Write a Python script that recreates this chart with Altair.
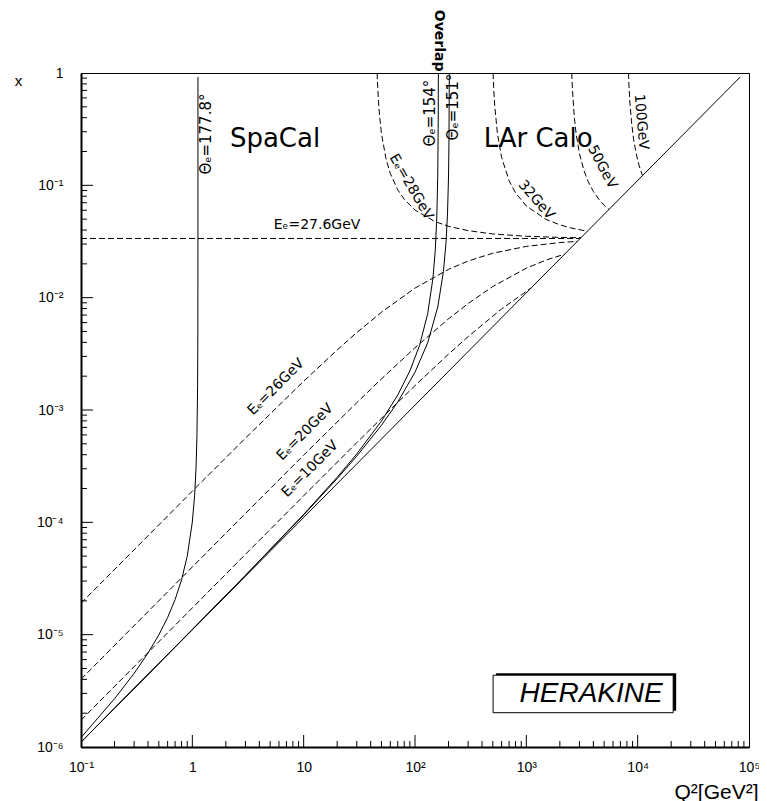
import altair as alt
import pandas as pd

# ---------------- data ----------------
# kinematic limit y = 1
diag_q2 = [0.1, 83400]
diag_x = [1.105e-6, 0.921]

# constant electron angle (solid)
t1778_q2 = [0.1, 0.2, 0.3, 0.4, 0.5, 0.6, 0.7, 0.8, 0.9, 1.0, 1.05, 1.08, 1.1, 1.115, 1.12, 1.1225, 1.1233, 1.12337]
t1778_x = [1.213e-6, 2.688e-6, 4.521e-6, 6.862e-6, 9.953e-6, 1.423e-5, 2.052e-5, 3.070e-5, 5.000e-5,
           1.006e-4, 1.776e-4, 3.089e-4, 5.839e-4, 1.651e-3, 4.119e-3, 0.01583, 0.1743, 0.92]
t154_q2 = [0.1, 1, 3, 10, 20, 30, 50, 70, 90, 110, 130, 145, 152, 157, 160, 161.5, 162.12]
t154_x = [1.105e-6, 1.112e-5, 3.376e-5, 1.177e-4, 2.520e-4, 4.065e-4, 7.980e-4, 1.359e-3, 2.230e-3,
          3.766e-3, 7.196e-3, 0.01494, 0.02620, 0.05208, 0.1192, 0.3191, 1.0]
t151_q2 = [0.1, 1, 3, 10, 20, 30, 50, 70, 100, 130, 160, 180, 190, 196, 200, 202, 203.34]
t151_x = [1.105e-6, 1.110e-5, 3.363e-5, 1.162e-4, 2.450e-4, 3.886e-4, 7.319e-4, 1.178e-3, 2.169e-3,
          3.966e-3, 8.225e-3, 0.01703, 0.03101, 0.05661, 0.1186, 0.2533, 1.0]

# constant scattered-electron energy (dashed)
e276_q2 = [0.1, 3047]
e276_x = [0.03366, 0.03366]
e26_q2 = [0.1, 1, 3, 10, 20, 30, 50, 100, 200, 300, 500, 1000, 2000, 2870]
e26_x = [1.904e-5, 1.895e-4, 5.621e-4, 1.803e-3, 3.423e-3, 4.887e-3, 7.426e-3, 0.01217, 0.01787,
         0.02119, 0.02487, 0.02861, 0.03093, 0.03171]
e20_q2 = [0.1, 1, 3, 10, 30, 50, 100, 200, 300, 500, 1000, 1500, 2208]
e20_x = [4.011e-6, 4.007e-5, 1.199e-4, 3.964e-4, 1.162e-3, 1.893e-3, 3.584e-3, 6.479e-3, 8.865e-3,
         0.01257, 0.01830, 0.02159, 0.02439]
e10_q2 = [0.1, 1, 3, 10, 30, 50, 100, 200, 300, 600, 1104]
e10_x = [1.732e-6, 1.731e-5, 5.189e-5, 1.723e-4, 5.118e-4, 8.444e-4, 1.648e-3, 3.141e-3, 4.502e-3,
         7.941e-3, 0.01220]
e28_q2 = [45.7, 46, 47, 48, 50, 55, 60, 70, 80, 100, 150, 200, 300, 500, 1000, 2000, 3091]
e28_x = [1.0, 0.841, 0.557, 0.421, 0.288, 0.1708, 0.1275, 0.0912, 0.0751, 0.0603, 0.0477, 0.0432,
         0.0395, 0.0369, 0.0352, 0.0344, 0.03415]
e32_q2 = [502.7, 510, 520, 550, 600, 700, 800, 1000, 1500, 2000, 2500, 3533]
e32_x = [1.0, 0.708, 0.511, 0.288, 0.1768, 0.1100, 0.0857, 0.0655, 0.0498, 0.0445, 0.0418, 0.0390]
e50_q2 = [2559, 2600, 2700, 2800, 3000, 3300, 3600, 4000, 4500, 5000, 5520]
e50_x = [1.0, 0.689, 0.400, 0.288, 0.1916, 0.1343, 0.1075, 0.0882, 0.0747, 0.0666, 0.0610]
e100_q2 = [8271, 8350, 8500, 8800, 9200, 9700, 10300, 11040]
e100_x = [1.0, 0.787, 0.564, 0.367, 0.2565, 0.1913, 0.1503, 0.1220]

# tick labels
x_tick_values = [0.1, 1, 10, 100, 1000, 10000, 100000]
x_tick_labels = ["10⁻¹", "1", "10", "10²", "10³", "10⁴", "10⁵"]
y_tick_values = [1e-6, 1e-5, 1e-4, 1e-3, 1e-2, 1e-1, 1]
y_tick_labels = ["10⁻⁶", "10⁻⁵", "10⁻⁴", "10⁻³", "10⁻²", "10⁻¹", "1"]

# annotations (data coordinates)
lab_txt = ["Eₑ=27.6GeV", "Eₑ=28GeV", "32GeV", "50GeV", "100GeV", "Eₑ=26GeV", "Eₑ=20GeV",
           "Eₑ=10GeV"]
lab_q2 = [13.2, 92.3, 1225, 4800, 10750, 5.65, 10.3, 11.4]
lab_x = [0.0443, 0.0966, 0.074, 0.1455, 0.366, 1.60e-3, 6.35e-4, 2.98e-4]
lab_ang = [0, 60, 49, 62, 85, 315, 315, 315]

theta_txt = ["Θₑ=177.8°", "Θₑ=154°", "Θₑ=151°"]
theta_q2 = [1.33, 136.7, 220]
theta_x = [0.286, 0.44, 0.498]

region_txt = ["SpaCal", "LAr Calo"]
region_q2 = [5.53, 1277]
region_x = [0.258, 0.258]

overlap_txt = ["Overlap"]
overlap_q2 = [165]
overlap_x = [1.94]

logo_txt = ["HERAKINE"]
logo_q2 = [3820]
logo_x = [2.95e-6]
box_q2 = [503, 20840]
box_x = [2.02e-6, 4.36e-6]

# ---------------- tables ----------------
def curve_df(named):
    rows = []
    for name, (qs, xs) in named.items():
        for i, (q, xv) in enumerate(zip(qs, xs)):
            rows.append({"curve": name, "i": i, "q2": q, "xv": xv})
    return pd.DataFrame(rows)

solid = curve_df({"diag": (diag_q2, diag_x), "t1778": (t1778_q2, t1778_x),
                  "t154": (t154_q2, t154_x), "t151": (t151_q2, t151_x)})
dashed = curve_df({"e276": (e276_q2, e276_x), "e26": (e26_q2, e26_x), "e20": (e20_q2, e20_x),
                   "e10": (e10_q2, e10_x), "e28": (e28_q2, e28_x), "e32": (e32_q2, e32_x),
                   "e50": (e50_q2, e50_x), "e100": (e100_q2, e100_x)})

x_major = [1, 10, 100, 1000, 10000]
x_minor = [k * 10.0 ** d for d in range(-1, 5) for k in range(2, 10)]
y_major = [1e-5, 1e-4, 1e-3, 1e-2, 1e-1]
y_minor = [k * 10.0 ** d for d in range(-6, 0) for k in range(2, 10)]

W, H = 668, 674

xlab_expr = "[" + ",".join("'%s'" % s for s in x_tick_labels) + "][round(log(datum.value)/LN10)+1]"
ylab_expr = "[" + ",".join("'%s'" % s for s in y_tick_labels) + "][round(log(datum.value)/LN10)+6]"

xscale = alt.Scale(type="log", domain=[0.1, 1e5], nice=False)
yscale = alt.Scale(type="log", domain=[1e-6, 1], nice=False)

x_axis = alt.Axis(values=x_tick_values, labelExpr=xlab_expr, ticks=False, tickSize=0, grid=False,
                  domainColor="black", domainWidth=2, labelFont="Liberation Sans", labelFontSize=14,
                  labelColor="black", labelPadding=13, labelFlush=False, labelOverlap=False,
                  title="Q²[GeV²]", titleFont="Liberation Sans", titleFontSize=21,
                  titleFontWeight="normal", titleColor="black", titleAlign="right",
                  titleAnchor="end", titleBaseline="alphabetic", titleX=677, titleY=51)
y_axis = alt.Axis(values=y_tick_values, labelExpr=ylab_expr, ticks=False, tickSize=0, grid=False,
                  domainColor="black", domainWidth=2, labelFont="Liberation Sans", labelFontSize=14,
                  labelColor="black", labelPadding=18, labelBaseline="middle", labelFlush=False,
                  labelOverlap=False, title="x", titleAngle=0, titleFont="Liberation Sans",
                  titleFontSize=15, titleFontWeight="normal", titleColor="black", titleAlign="center",
                  titleBaseline="middle", titleX=-63, titleY=7)

solid_layer = alt.Chart(solid).mark_line(color="black", strokeWidth=1, clip=True).encode(
    x=alt.X("q2:Q", scale=xscale, axis=x_axis),
    y=alt.Y("xv:Q", scale=yscale, axis=y_axis),
    detail="curve:N", order="i:Q")

dashed_layer = alt.Chart(dashed).mark_line(color="black", strokeWidth=1, strokeDash=[6, 3],
                                           clip=True).encode(
    x="q2:Q", y="xv:Q", detail="curve:N", order="i:Q")

xt_major = alt.Chart(pd.DataFrame({"q2": x_major})).mark_rule(color="black", strokeWidth=1).encode(
    x="q2:Q", y=alt.value(H), y2=alt.value(H - 12))
xt_minor = alt.Chart(pd.DataFrame({"q2": x_minor})).mark_rule(color="black", strokeWidth=1).encode(
    x="q2:Q", y=alt.value(H), y2=alt.value(H - 6))
yt_major = alt.Chart(pd.DataFrame({"xv": y_major})).mark_rule(color="black", strokeWidth=1).encode(
    y="xv:Q", x=alt.value(0), x2=alt.value(12))
yt_minor = alt.Chart(pd.DataFrame({"xv": y_minor})).mark_rule(color="black", strokeWidth=1).encode(
    y="xv:Q", x=alt.value(0), x2=alt.value(6))

labels = alt.Chart(pd.DataFrame({"q2": lab_q2, "xv": lab_x, "t": lab_txt, "a": lab_ang})).mark_text(
    font="DejaVu Sans", fontSize=14, color="black", align="center", baseline="middle").encode(
    x="q2:Q", y="xv:Q", text="t:N", angle=alt.Angle("a:Q", scale=None))

thetas = alt.Chart(pd.DataFrame({"q2": theta_q2, "xv": theta_x, "t": theta_txt})).mark_text(
    font="DejaVu Sans", fontSize=15, color="black", align="center", baseline="middle",
    angle=270).encode(x="q2:Q", y="xv:Q", text="t:N")

regions = alt.Chart(pd.DataFrame({"q2": region_q2, "xv": region_x, "t": region_txt})).mark_text(
    font="DejaVu Sans", fontSize=26, color="black", align="center", baseline="middle").encode(
    x="q2:Q", y="xv:Q", text="t:N")

overlap = alt.Chart(pd.DataFrame({"q2": overlap_q2, "xv": overlap_x, "t": overlap_txt})).mark_text(
    font="DejaVu Sans", fontSize=14, fontWeight="bold", color="black", align="center",
    baseline="middle", angle=90).encode(x="q2:Q", y="xv:Q", text="t:N")

box_df = pd.DataFrame({"q2": [box_q2[0]], "q2b": [box_q2[1]], "xv": [box_x[0]], "xvb": [box_x[1]]})
shadow = alt.Chart(box_df).mark_rect(color="black", xOffset=3, x2Offset=3, yOffset=-2,
                                     y2Offset=-2).encode(x="q2:Q", x2="q2b:Q", y="xv:Q", y2="xvb:Q")
box = alt.Chart(box_df).mark_rect(fill="white", stroke="black", strokeWidth=1).encode(
    x="q2:Q", x2="q2b:Q", y="xv:Q", y2="xvb:Q")
logo = alt.Chart(pd.DataFrame({"q2": logo_q2, "xv": logo_x, "t": logo_txt})).mark_text(
    font="Liberation Sans", fontSize=28, fontStyle="italic", color="black", align="center",
    baseline="middle").encode(x="q2:Q", y="xv:Q", text="t:N")

chart = alt.layer(solid_layer, dashed_layer, xt_major, xt_minor, yt_major, yt_minor,
                  labels, thetas, regions, overlap, shadow, box, logo).properties(
    width=W, height=H,
    padding={"left": 73, "top": 65, "right": 10, "bottom": 54},
    autosize=alt.AutoSizeParams(type="none"),
    background="white",
).configure_view(stroke="black", strokeWidth=1)

chart.save("out.html", embed_options={"renderer": "svg", "actions": False})
